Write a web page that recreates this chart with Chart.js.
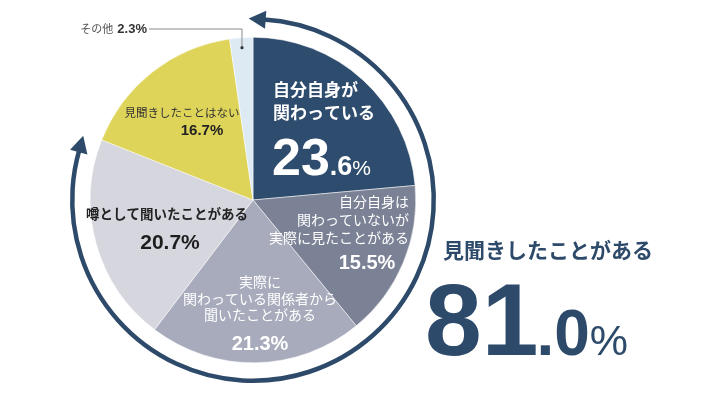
<!DOCTYPE html>
<html>
<head>
<meta charset="utf-8">
<script src="https://cdn.jsdelivr.net/npm/chart.js@4.4.1/dist/chart.umd.min.js"></script>
<style>
  html, body { margin: 0; padding: 0; background: #fff; }
  #wrap { position: relative; width: 708px; height: 398px; }
</style>
</head>
<body>
<div id="wrap"><canvas id="pieChart"></canvas></div>
<script>
// data
var categories = [
    '自分自身が関わっている',
    '自分自身は関わっていないが実際に見たことがある',
    '実際に関わっている関係者から聞いたことがある',
    '噂として聞いたことがある',
    '見聞きしたことはない',
    'その他'
];
var values = [23.6, 15.5, 21.3, 20.7, 16.7, 2.3];
var sliceColors = ['#2e4c6d', '#7b8296', '#a7abbb', '#d5d6de', '#dfd45a', '#ddeaf4'];
var seenCount = 4;          // first four slices = "見聞きしたことがある"
var seenTotal = '81.0';

var JP = '"Noto Sans CJK JP", "Noto Sans", sans-serif';
var NUM = '"Liberation Sans", Arial, sans-serif';
var NAVY = '#2e4a6a';

function pctParts(v) {
    return v.toFixed(1).split('.');
}

// draws "23" + ".6" + "%" in different sizes
function drawBigNumber(ctx, x, y, v, sizes, color, align) {
    var p = pctParts(v);
    var parts = [
        { t: p[0], f: 'bold ' + sizes[0] + 'px ' + NUM },
        { t: '.' + p[1], f: 'bold ' + sizes[1] + 'px ' + NUM },
        { t: '%', f: sizes[2] + 'px ' + NUM }
    ];
    var w = 0;
    parts.forEach(function (q) { ctx.font = q.f; q.w = ctx.measureText(q.t).width; w += q.w; });
    var cx = align === 'center' ? x - w / 2 : x;
    ctx.fillStyle = color;
    ctx.textAlign = 'left';
    ctx.textBaseline = 'alphabetic';
    parts.forEach(function (q) { ctx.font = q.f; ctx.fillText(q.t, cx, y); cx += q.w; });
}

function lines(ctx, arr, x, y0, step, font, color, align) {
    ctx.font = font;
    ctx.fillStyle = color;
    ctx.textAlign = align;
    ctx.textBaseline = 'middle';
    arr.forEach(function (t, i) { ctx.fillText(t, x, y0 + i * step); });
}

var labelPlugin = {
    id: 'pieLabels',
    afterDraw: function (chart) {
        var ctx = chart.ctx;
        var meta = chart.getDatasetMeta(0);
        var arc0 = meta.data[0];
        var cx = arc0.x, cy = arc0.y, r = arc0.outerRadius;
        ctx.save();

        // ring with arrowheads over the "seen" slices
        var a0 = meta.data[0].startAngle;
        var a1 = meta.data[seenCount - 1].endAngle;
        var rr = r + 18;
        ctx.strokeStyle = NAVY;
        ctx.lineWidth = 4.5;
        ctx.beginPath();
        ctx.arc(cx, cy, rr, a0 + 0.06, a1 - 0.1);
        ctx.stroke();
        function head(angle, dir) {
            // dir = -1 arrow points counterclockwise, +1 clockwise
            var px = cx + rr * Math.cos(angle), py = cy + rr * Math.sin(angle);
            var tx = -Math.sin(angle) * dir, ty = Math.cos(angle) * dir;
            var nx = Math.cos(angle), ny = Math.sin(angle);
            var L = 17, W = 9;
            ctx.fillStyle = NAVY;
            ctx.beginPath();
            ctx.moveTo(px + tx * L, py + ty * L);
            ctx.lineTo(px + nx * W, py + ny * W);
            ctx.lineTo(px - nx * W, py - ny * W);
            ctx.closePath();
            ctx.fill();
        }
        head(a0 + 0.07, -1);
        head(a1 - 0.11, 1);

        // slice 1
        lines(ctx, ['自分自身が', '関わっている'], cx + 20, cy - 110, 23, 'bold 17px ' + JP, '#fff', 'left');
        drawBigNumber(ctx, cx + 19, cy - 25, values[0], [52, 27, 21], '#fff', 'left');

        // slice 2
        lines(ctx, ['自分自身は', '関わっていないが', '実際に見たことがある'], cx + 156, cy + 2, 18, '14px ' + JP, '#fff', 'right');
        ctx.font = 'bold 20px ' + NUM;
        ctx.textAlign = 'center';
        ctx.textBaseline = 'middle';
        ctx.fillStyle = '#fff';
        ctx.fillText(values[1].toFixed(1) + '%', cx + 114, cy + 63);

        // slice 3
        lines(ctx, ['実際に', '関わっている関係者から', '聞いたことがある'], cx + 7, cy + 82, 16.5, '14px ' + JP, '#fff', 'center');
        ctx.font = 'bold 20px ' + NUM;
        ctx.textAlign = 'center';
        ctx.fillStyle = '#fff';
        ctx.fillText(values[2].toFixed(1) + '%', cx + 7, cy + 144);

        // slice 4
        lines(ctx, ['噂として聞いたことがある'], cx - 86, cy + 14, 18, 'bold 13.5px ' + JP, '#222', 'center');
        ctx.font = 'bold 21px ' + NUM;
        ctx.textAlign = 'center';
        ctx.fillStyle = '#1e1e1e';
        ctx.fillText(values[3].toFixed(1) + '%', cx - 83, cy + 43);

        // slice 5
        lines(ctx, ['見聞きしたことはない'], cx - 71, cy - 87, 18, '11.5px ' + JP, '#333', 'center');
        ctx.font = 'bold 15px ' + NUM;
        ctx.textAlign = 'center';
        ctx.fillStyle = '#222';
        ctx.fillText(values[4].toFixed(1) + '%', cx - 51, cy - 69);

        // slice 6, with leader line
        var m6 = meta.data[5];
        var mid = (m6.startAngle + m6.endAngle) / 2;
        var dx = cx + (r - 10) * Math.cos(mid), dy = cy + (r - 10) * Math.sin(mid);
        var ly = cy - 171;
        ctx.strokeStyle = '#8a8a8a';
        ctx.lineWidth = 1;
        ctx.beginPath();
        ctx.moveTo(cx - 104, ly);
        ctx.lineTo(dx, ly);
        ctx.lineTo(dx, dy);
        ctx.stroke();
        ctx.fillStyle = '#333';
        ctx.beginPath();
        ctx.arc(dx, dy, 1.6, 0, Math.PI * 2);
        ctx.fill();
        ctx.textBaseline = 'middle';
        ctx.textAlign = 'right';
        ctx.font = 'bold 13px ' + NUM;
        ctx.fillStyle = '#333';
        var pctTxt = values[5].toFixed(1) + '%';
        ctx.fillText(pctTxt, cx - 106, ly);
        var pw = ctx.measureText(pctTxt).width;
        ctx.font = '11px ' + JP;
        ctx.fillStyle = '#555';
        ctx.fillText('その他', cx - 110 - pw, ly);

        // right-hand total
        ctx.font = 'bold 21px ' + JP;
        ctx.fillStyle = NAVY;
        ctx.textAlign = 'left';
        ctx.textBaseline = 'middle';
        ctx.fillText('見聞きしたことがある', cx + 190, cy + 50);
        var tp = seenTotal.split('.');
        var x = cx + 172, y = cy + 155;
        ctx.textBaseline = 'alphabetic';
        ctx.font = 'bold 102px ' + NUM;
        ctx.fillText(tp[0], x, y);
        x += ctx.measureText(tp[0]).width - 2;
        ctx.font = 'bold 64px ' + NUM;
        ctx.fillText('.' + tp[1], x, y);
        x += ctx.measureText('.' + tp[1]).width;
        ctx.font = '43px ' + NUM;
        ctx.fillText('%', x, y);

        ctx.restore();
    }
};

var PieConfig = {
    type: 'pie',
    data: {
        labels: categories,
        datasets: [{
            data: values,
            backgroundColor: sliceColors,
            borderWidth: 0.5,
            borderColor: '#ffffff'
        }]
    },
    options: {
        responsive: true,
        maintainAspectRatio: false,
        animation: false,
        layout: { padding: { left: 90, top: 37, right: 292, bottom: 35 } },
        plugins: {
            legend: { display: false },
            tooltip: { enabled: false }
        }
    },
    plugins: [labelPlugin]
};

window.myPie = new Chart(document.getElementById('pieChart'), PieConfig);
</script>
</body>
</html>
